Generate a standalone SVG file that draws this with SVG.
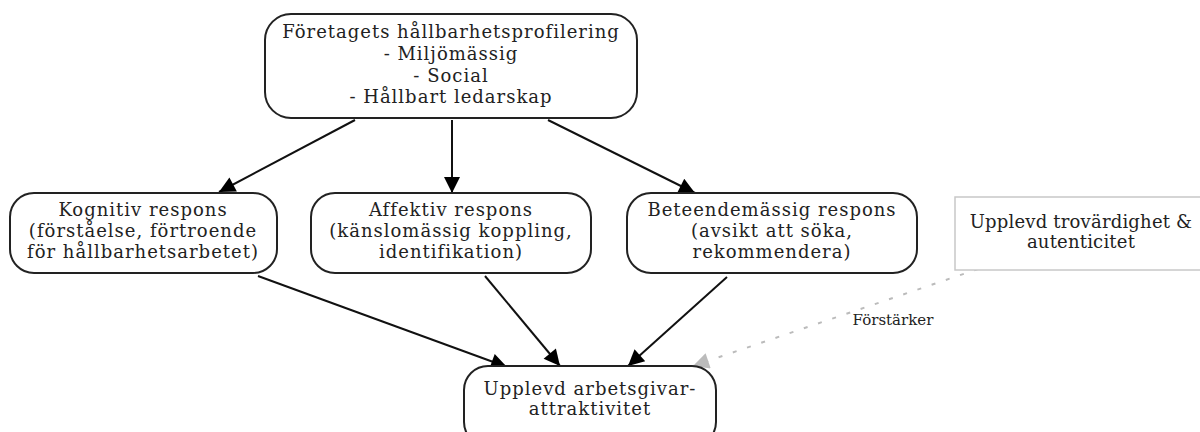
<svg xmlns="http://www.w3.org/2000/svg" width="1200" height="432" viewBox="0 0 1200 432">
<style>
.n{fill:#fff;stroke:#222;stroke-width:2}
.g{fill:#fff;stroke:#c8c8c8;stroke-width:1.5}
.t{font-family:"DejaVu Serif",serif;font-size:18px;letter-spacing:1px;fill:#222;text-anchor:middle}
.s{letter-spacing:0.2px}
.l{font-family:"DejaVu Serif",serif;font-size:15px;fill:#222;text-anchor:middle}
.e{fill:none;stroke:#111;stroke-width:2}
.d{fill:none;stroke:#bbb;stroke-width:2;stroke-dasharray:4,11}
</style>
<defs>
<marker id="a" viewBox="0 0 10 10" refX="10" refY="5" markerWidth="9" markerHeight="8" markerUnits="strokeWidth" orient="auto"><path d="M0,0L10,5L0,10z" fill="#000"/></marker>
<marker id="ag" viewBox="0 0 10 10" refX="10" refY="5" markerWidth="9" markerHeight="8" markerUnits="strokeWidth" orient="auto"><path d="M0,0L10,5L0,10z" fill="#bbb"/></marker>
</defs>
<g id="edges">
<path class="e" d="M355,120L219,192" marker-end="url(#a)"/>
<path class="e" d="M452,120L452,193" marker-end="url(#a)"/>
<path class="e" d="M548,120L695,193" marker-end="url(#a)"/>
<path class="e" d="M258,276L507,367" marker-end="url(#a)"/>
<path class="e" d="M485,276L560,366" marker-end="url(#a)"/>
<path class="e" d="M727,277L628,366" marker-end="url(#a)"/>
<path class="d" d="M978,269L693,366" marker-end="url(#ag)"/>
<text class="l" x="893" y="325">Förstärker</text>
</g>
<g id="top">
<rect class="n" x="265" y="14" width="372" height="104" rx="26"/>
<text class="t" x="451" y="38">Företagets hållbarhetsprofilering</text>
<text class="t" x="451" y="60">- Miljömässig</text>
<text class="t" x="451" y="82">- Social</text>
<text class="t" x="451" y="103">- Hållbart ledarskap</text>
</g>
<g id="kognitiv">
<rect class="n" x="10" y="193" width="267" height="80" rx="24"/>
<text class="t" x="143" y="216">Kognitiv respons</text>
<text class="t" x="143" y="237">(förståelse, förtroende</text>
<text class="t" x="143" y="258">för hållbarhetsarbetet)</text>
</g>
<g id="affektiv">
<rect class="n" x="311" y="193" width="280" height="80" rx="24"/>
<text class="t" x="451" y="216">Affektiv respons</text>
<text class="t" x="451" y="237">(känslomässig koppling,</text>
<text class="t" x="451" y="258">identifikation)</text>
</g>
<g id="beteende">
<rect class="n" x="627" y="193" width="290" height="80" rx="24"/>
<text class="t" x="772" y="216">Beteendemässig respons</text>
<text class="t" x="772" y="237">(avsikt att söka,</text>
<text class="t" x="772" y="258">rekommendera)</text>
</g>
<g id="trov">
<rect class="g" x="955" y="197" width="250" height="73"/>
<text class="t s" x="1081" y="228">Upplevd trovärdighet &amp;</text>
<text class="t s" x="1081" y="248">autenticitet</text>
</g>
<g id="bottom">
<rect class="n" x="464" y="366" width="252" height="80" rx="24"/>
<text class="t" x="590" y="395">Upplevd arbetsgivar-</text>
<text class="t" x="590" y="415">attraktivitet</text>
</g>
</svg>
